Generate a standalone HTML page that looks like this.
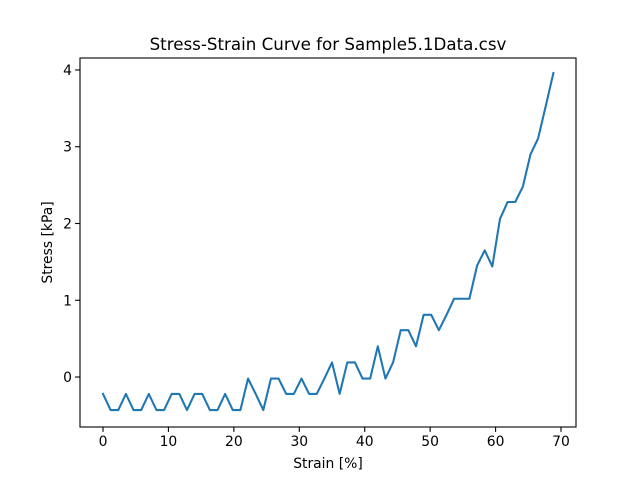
<!DOCTYPE html>
<html><head><meta charset="utf-8"><style>
body{margin:0;background:#fff;}
svg text{font-family:"DejaVu Sans","Liberation Sans",sans-serif;fill:#000;}
</style></head><body>
<svg id="chart" width="640" height="480" xmlns="http://www.w3.org/2000/svg">
<rect width="640" height="480" fill="#fff"/>
<text x="328" y="50" font-size="16.7" text-anchor="middle">Stress-Strain Curve for Sample5.1Data.csv</text>
<g id="xt"></g><g id="yt"></g>
<path id="line" fill="none" stroke="#1f77b4" stroke-width="2.08" stroke-linejoin="round" stroke-linecap="square"/>
<rect x="80" y="58" width="496" height="369" fill="none" stroke="#000" stroke-width="1.1"/>
<text x="328" y="468" font-size="13.9" text-anchor="middle">Strain [%]</text>
<text transform="translate(52,242.5) rotate(-90)" font-size="13.9" text-anchor="middle">Stress [kPa]</text>
</svg>
<script>
const stress = [-0.22,-0.43,-0.43,-0.22,-0.43,-0.43,-0.22,-0.43,-0.43,-0.22,-0.22,-0.43,-0.22,-0.22,-0.43,-0.43,-0.22,-0.43,-0.43,-0.02,-0.22,-0.43,-0.02,-0.02,-0.22,-0.22,-0.02,-0.22,-0.22,-0.02,0.19,-0.22,0.19,0.19,-0.02,-0.02,0.40,-0.02,0.19,0.61,0.61,0.40,0.81,0.81,0.61,0.81,1.02,1.02,1.02,1.45,1.65,1.44,2.06,2.28,2.28,2.48,2.90,3.11,3.53,3.96];
const strainStep = 1.1667;
const xTicks = [0,10,20,30,40,50,60,70];
const yTicks = [0,1,2,3,4];
const X0=80,X1=576,Y0=58,Y1=427;
const xmin=-3.515,xmax=72.29,ymin=-0.651,ymax=4.156;
const sx=v=>X0+(v-xmin)/(xmax-xmin)*(X1-X0);
const sy=v=>Y1-(v-ymin)/(ymax-ymin)*(Y1-Y0);
const NS='http://www.w3.org/2000/svg';
let d='';
stress.forEach((s,i)=>{d+=(i?'L':'M')+sx(i*strainStep).toFixed(2)+','+sy(s).toFixed(2);});
document.getElementById('line').setAttribute('d',d);
const xt=document.getElementById('xt'),yt=document.getElementById('yt');
xTicks.forEach(t=>{
 const x=sx(t);
 const l=document.createElementNS(NS,'line');
 
 
 l.setAttribute('x1',x);l.setAttribute('x2',x);l.setAttribute('y1',Y1);l.setAttribute('y2',Y1+4.9);l.setAttribute('stroke','#000');l.setAttribute('stroke-width','1.1');
 xt.appendChild(l);
 const tx=document.createElementNS(NS,'text');
 
 
 tx.setAttribute('x',x);tx.setAttribute('y',Y1+19);tx.setAttribute('font-size','13.9');tx.setAttribute('text-anchor','middle');
 tx.textContent=t;xt.appendChild(tx);
});
yTicks.forEach(t=>{
 const y=sy(t);
 const l=document.createElementNS(NS,'line');
 
 
 l.setAttribute('x1',X0-4.9);l.setAttribute('x2',X0);l.setAttribute('y1',y);l.setAttribute('y2',y);l.setAttribute('stroke','#000');l.setAttribute('stroke-width','1.1');
 yt.appendChild(l);
 const tx=document.createElementNS(NS,'text');
 
 
 tx.setAttribute('x',X0-8);tx.setAttribute('y',y+5);tx.setAttribute('font-size','13.9');tx.setAttribute('text-anchor','end');
 tx.textContent=t;yt.appendChild(tx);
});
</script>
</body></html>
